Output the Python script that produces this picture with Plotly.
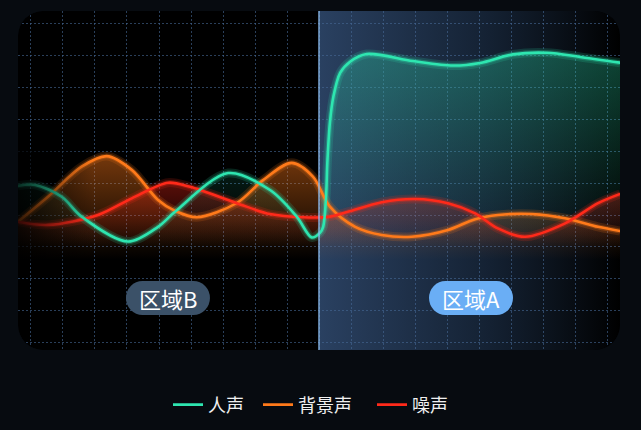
import base64
import plotly.graph_objects as go

# ---- data (x in time steps, y in level units) ----
voice_x = [-0.41, 0.13, 0.96, 1.58, 3.03, 3.97, 4.5, 6.16, 7.47, 8.31, 8.77, 9.03, 9.13, 9.22, 9.26, 9.34, 9.45, 9.66, 9.97, 10.49, 11.94, 13.19, 14.03, 15.06, 16.13, 17.16, 18.41]
voice_y = [49.1, 49.4, 45.7, 39.5, 31.7, 36.3, 41.0, 53.1, 47.8, 39.4, 33.0, 34.4, 36.3, 45.7, 56.3, 68.8, 77.0, 84.4, 87.9, 90.3, 88.1, 86.7, 87.5, 90.2, 90.7, 89.4, 87.6]

bg_x = [-0.41, 0.53, 1.58, 2.37, 3.15, 3.97, 4.5, 5.18, 6.43, 7.25, 8.15, 8.81, 9.34, 10.13, 10.96, 11.9, 13.03, 13.88, 14.59, 15.65, 16.69, 17.72, 18.41]
bg_y = [37.9, 45.7, 55.1, 58.4, 54.1, 44.7, 41.3, 39.3, 43.75, 50.9, 56.3, 52.0, 42.6, 36.3, 33.75, 33.2, 35.3, 38.7, 40.0, 40.3, 39.0, 36.3, 35.0]

noise_x = [-0.41, 0.53, 2.09, 3.15, 4.28, 4.97, 6.43, 7.47, 8.5, 9.34, 9.9, 10.96, 12.0, 13.03, 13.88, 14.59, 15.44, 16.69, 17.72, 18.41]
noise_y = [37.9, 36.9, 40.0, 45.2, 50.1, 48.8, 43.7, 40.3, 39.3, 39.5, 41.0, 44.0, 45.0, 43.7, 40.5, 35.8, 33.2, 37.4, 43.7, 46.6]

series_names = ["人声", "背景声", "噪声"]
region_labels = ["区域B", "区域A"]
region_x = [4.28, 13.75]
region_y = 14.06
split_x = 9

# ---- style ----
PAGE_BG = "#070b10"
X_RANGE = [-0.406, 18.406]
Y_RANGE = [-2.19, 103.75]
FONT = "Noto Sans CJK SC"

colors = {"人声": (46, 230, 176), "背景声": (255, 122, 26), "噪声": (255, 42, 26)}
fill_spans = {"人声": (30, 91), "背景声": (26, 58), "噪声": (30, 50)}
fill_alpha = {"人声": 0.3, "背景声": 0.45, "噪声": 0.35}
legend_widths = {"人声": 45, "背景声": 69, "噪声": 40}


def svg_uri(svg):
    return "data:image/svg+xml;base64," + base64.b64encode(svg.encode()).decode()


W, H, R = 602, 339, 25
split_px = 301.5
bg_svg = f'''<svg xmlns="http://www.w3.org/2000/svg" width="{W}" height="{H}" viewBox="0 0 {W} {H}">
<defs>
<linearGradient id="g" x1="0" y1="0" x2="1" y2="0">
<stop offset="0" stop-color="#2c4466" stop-opacity="0.95"/>
<stop offset="0.55" stop-color="#17263a" stop-opacity="0.9"/>
<stop offset="1" stop-color="#000000" stop-opacity="1"/>
</linearGradient>
<clipPath id="c"><rect x="0" y="0" width="{W}" height="{H}" rx="{R}" ry="{R}"/></clipPath>
</defs>
<rect x="0" y="0" width="{W}" height="{H}" rx="{R}" ry="{R}" fill="#000000"/>
<rect x="{split_px}" y="0" width="{W - split_px}" height="{H}" fill="url(#g)" clip-path="url(#c)"/>
</svg>'''

mask_svg = f'''<svg xmlns="http://www.w3.org/2000/svg" width="{W}" height="{H}" viewBox="0 0 {W} {H}">
<defs>
<linearGradient id="f" x1="0" y1="0" x2="1" y2="0">
<stop offset="0" stop-color="#000000" stop-opacity="0.8"/>
<stop offset="1" stop-color="#000000" stop-opacity="0"/>
</linearGradient>
</defs>
<rect x="0" y="140" width="75" height="110" fill="url(#f)"/>
<path fill-rule="evenodd" fill="{PAGE_BG}" d="M0,0 H{W} V{H} H0 Z M{R},0 H{W-R} A{R},{R} 0 0 1 {W},{R} V{H-R} A{R},{R} 0 0 1 {W-R},{H} H{R} A{R},{R} 0 0 1 0,{H-R} V{R} A{R},{R} 0 0 1 {R},0 Z"/>
</svg>'''


def pill(color):
    return svg_uri(f'<svg xmlns="http://www.w3.org/2000/svg" width="84" height="33" viewBox="0 0 84 33">'
                   f'<rect x="0" y="0" width="84" height="33" rx="16.5" ry="16.5" fill="{color}"/></svg>')


fig = go.Figure()

data = {"人声": (voice_x, voice_y), "背景声": (bg_x, bg_y), "噪声": (noise_x, noise_y)}
SPL = dict(shape="spline", smoothing=0.9)

# fills
for name in ["背景声", "噪声", "人声"]:
    xs, ys = data[name]
    r, g, b = colors[name]
    lo, hi = fill_spans[name]
    fig.add_trace(go.Scatter(
        x=xs, y=ys, mode="lines", line=dict(width=0, **SPL),
        fill="tozeroy",
        fillgradient=dict(type="vertical", start=lo, stop=hi,
                          colorscale=[[0, f"rgba({r},{g},{b},0)"], [1, f"rgba({r},{g},{b},{fill_alpha[name]})"]]),
        showlegend=False, hoverinfo="skip"))

# glow
for name in ["背景声", "噪声", "人声"]:
    xs, ys = data[name]
    r, g, b = colors[name]
    fig.add_trace(go.Scatter(x=xs, y=ys, mode="lines",
                             line=dict(width=9, color=f"rgba({r},{g},{b},0.16)", **SPL),
                             showlegend=False, hoverinfo="skip"))
    fig.add_trace(go.Scatter(x=xs, y=ys, mode="lines",
                             line=dict(width=5, color=f"rgba({r},{g},{b},0.28)", **SPL),
                             showlegend=False, hoverinfo="skip"))

# main lines
for name in ["背景声", "噪声", "人声"]:
    xs, ys = data[name]
    r, g, b = colors[name]
    fig.add_trace(go.Scatter(x=xs, y=ys, mode="lines", name=name,
                             line=dict(width=2.6, color=f"rgb({r},{g},{b})", **SPL),
                             legendrank={"人声": 1, "背景声": 2, "噪声": 3}[name],
                             legendwidth=legend_widths[name]))

fig.add_shape(type="line", x0=split_x, x1=split_x, y0=Y_RANGE[0], y1=Y_RANGE[1],
              line=dict(color="rgba(140,188,240,0.9)", width=1.5), layer="above")

images = [
    dict(source=svg_uri(bg_svg), xref="x", yref="y", x=X_RANGE[0], y=Y_RANGE[1],
         sizex=X_RANGE[1] - X_RANGE[0], sizey=Y_RANGE[1] - Y_RANGE[0],
         xanchor="left", yanchor="top", sizing="stretch", layer="below"),
    dict(source=svg_uri(mask_svg), xref="x", yref="y", x=X_RANGE[0], y=Y_RANGE[1],
         sizex=X_RANGE[1] - X_RANGE[0], sizey=Y_RANGE[1] - Y_RANGE[0],
         xanchor="left", yanchor="top", sizing="stretch", layer="above"),
]
pill_colors = ["#3b5168", "#6aaef5"]
for lx, pc in zip(region_x, pill_colors):
    images.append(dict(source=pill(pc), xref="x", yref="y", x=lx, y=region_y,
                       sizex=84 / 32, sizey=34 / 3.2, xanchor="center", yanchor="middle",
                       sizing="stretch", layer="above"))

for lx, lab in zip(region_x, region_labels):
    fig.add_annotation(x=lx, y=region_y, text=lab, showarrow=False,
                       font=dict(family=FONT, size=22, color="#ffffff"))

fig.update_layout(
    width=641, height=430,
    margin=dict(l=18, r=21, t=11, b=80, autoexpand=False),
    paper_bgcolor=PAGE_BG, plot_bgcolor="rgba(0,0,0,0)",
    images=images,
    showlegend=True,
    legend=dict(orientation="h", x=(168 - 18) / 602, xanchor="left", y=-0.162, yanchor="middle",
                font=dict(family=FONT, size=18, color="#f0f0f0"), bgcolor="rgba(0,0,0,0)",
                itemwidth=30, traceorder="normal"),
    xaxis=dict(range=X_RANGE, showticklabels=False, ticks="", zeroline=False, showline=False,
               showgrid=True, tick0=0, dtick=1, gridcolor="rgba(70,105,150,0.6)", griddash="2px,2px", gridwidth=1),
    yaxis=dict(range=Y_RANGE, showticklabels=False, ticks="", zeroline=False, showline=False,
               showgrid=True, tick0=0, dtick=10, gridcolor="rgba(70,105,150,0.6)", griddash="2px,2px", gridwidth=1),
    hovermode=False,
)

fig.write_html("out.html", config={"displayModeBar": False},
               post_script="document.body.style.margin='0';")
